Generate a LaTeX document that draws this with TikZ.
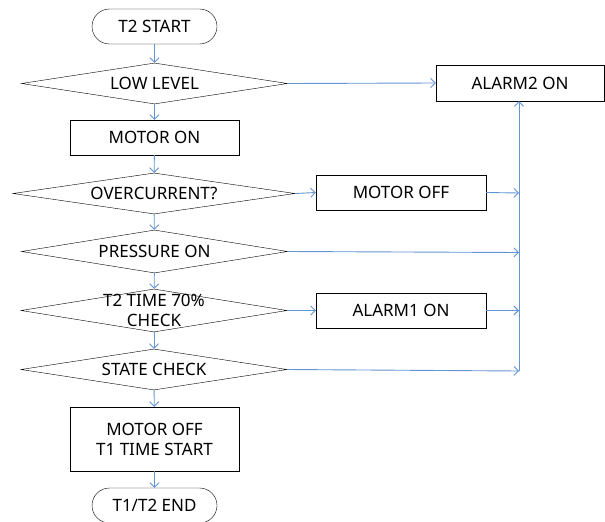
\documentclass[tikz,border=0pt]{standalone}
\usepackage{fontspec}
\setmainfont{Noto Sans}
\usetikzlibrary{arrows.meta,positioning,shapes.geometric,shapes.misc}
\definecolor{flowblue}{RGB}{100,148,210}

\begin{document}
\begin{tikzpicture}[x=1pt, y=-1pt,
  >={Straight Barb[length=4.5pt,width=9pt]},
  every node/.style={font=\fontsize{17}{20}\selectfont},
  term/.style={draw, rounded rectangle, minimum width=125pt, minimum height=35pt, inner sep=0pt},
  proc/.style={draw, rectangle, minimum width=169pt, minimum height=35pt, inner sep=0pt, align=center},
  dec/.style={draw, diamond, shape aspect=6.5, minimum width=266pt, minimum height=41pt, inner sep=0pt},
  flow/.style={->, draw=flowblue, line width=0.9pt}]
\useasboundingbox (0,0) rectangle (605,522);
% main column
\node[term] (start) at (154.5,26.5) {T2 START};
\node[dec] (low) at (154.5,83.5) {LOW LEVEL};
\node[proc] (mon) at (154.5,137.5) {MOTOR ON};
\node[dec, minimum width=282pt] (over) at (154,193.5) {OVERCURRENT?};
\node[dec, minimum height=43pt] (pres) at (154.5,251.5) {PRESSURE ON};
\node[dec, minimum height=43pt] (tchk) at (154,310.5) {};
\node[align=center] (ttxt) at (tchk) {T2 TIME 70\%\\CHECK};
\node[dec] (state) at (154,369.5) {STATE CHECK};
\node[proc, minimum height=64pt] (moff) at (154.5,439) {MOTOR OFF\\T1 TIME START};
\node[term] (fin) at (154.5,505.5) {T1/T2 END};
% right side
\node[proc, minimum width=168pt, minimum height=36pt] (al2) at (520,83) {ALARM2 ON};
\node[proc, minimum width=170pt] (mof2) at (401,192.5) {MOTOR OFF};
\node[proc, minimum width=170pt] (al1) at (401,310.5) {ALARM1 ON};
\coordinate (j1) at (519,193);
\coordinate (j2) at (519,252.5);
\coordinate (j3) at (519,310.5);
\coordinate (j4) at (519,371);
% down the column
\draw[flow] (start) -- (low);
\draw[flow] (low) -- (mon);
\draw[flow] (mon) -- (over);
\draw[flow] (over) -- (pres);
\draw[flow] (pres) -- (tchk);
\draw[flow] (tchk) -- (state);
\draw[flow] (state) -- (moff);
\draw[flow] (moff) -- (fin);
% branches
\draw[flow] (low.east) -- (al2.west);
\draw[flow] (over.east) -- (mof2.west);
\draw[flow] (tchk.east) -- (al1.west);
\draw[flow] (mof2.east) -- (j1);
\draw[flow] (pres.east) -- (j2);
\draw[flow] (al1.east) -- (j3);
\draw[flow] (state.east) -- (j4);
\draw[flow] (j4) -- (j4 |- al2.south);
\end{tikzpicture}
\end{document}
